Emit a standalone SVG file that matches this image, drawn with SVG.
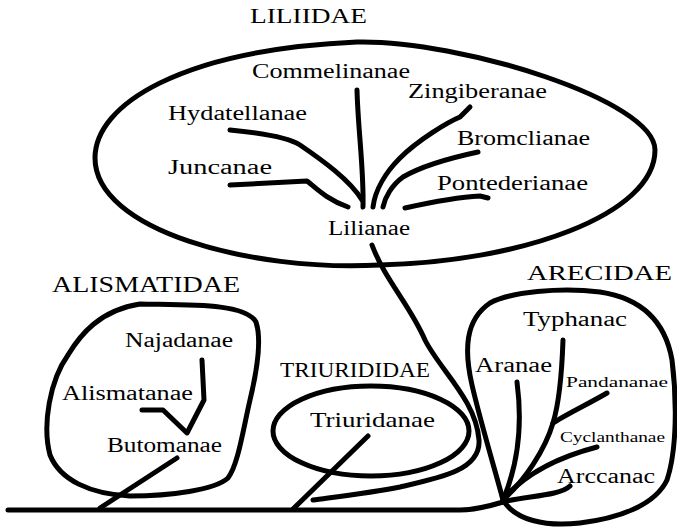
<svg xmlns="http://www.w3.org/2000/svg" width="677" height="529" viewBox="0 0 677 529">
<style>
.ln{fill:none;stroke:#000;stroke-width:5;stroke-linecap:round;stroke-linejoin:round}
.ol{fill:none;stroke:#000;stroke-width:5}
text{font-family:"Liberation Serif","Times New Roman",serif;fill:#000}
.t{font-size:20px}
.h{font-size:22px}
.s{font-size:15px}
</style>
<rect width="677" height="529" fill="#fff"/>
<g id="liliidae">
<path class="ol" d="M95,158 C95,105 180,50 357,42 C460,40 655,100 655,150 C655,215 520,262 380,265 C250,272 95,230 95,158 Z"/>
<text class="h" x="250" y="23" textLength="117" lengthAdjust="spacingAndGlyphs">LILIIDAE</text>
</g>
<g id="commelinanae"><text class="t" x="252" y="78" textLength="158" lengthAdjust="spacingAndGlyphs">Commelinanae</text></g>
<g id="hydatellanae"><text class="t" x="168" y="120" textLength="139" lengthAdjust="spacingAndGlyphs">Hydatellanae</text></g>
<g id="juncanae"><text class="t" x="168" y="174" textLength="104" lengthAdjust="spacingAndGlyphs">Juncanae</text></g>
<g id="lilianae"><text class="t" x="328" y="235" textLength="82" lengthAdjust="spacingAndGlyphs">Lilianae</text></g>
<g id="zingiberanae"><text class="t" x="408" y="98" textLength="139" lengthAdjust="spacingAndGlyphs">Zingiberanae</text></g>
<g id="bromclianae"><text class="t" x="457" y="145" textLength="133" lengthAdjust="spacingAndGlyphs">Bromclianae</text></g>
<g id="pontederianae"><text class="t" x="437" y="190" textLength="151" lengthAdjust="spacingAndGlyphs">Pontederianae</text></g>
<g id="alismatidae">
<path class="ol" d="M140,304 C190,305 245,303 256,322 C262,340 256,375 250,400 C243,430 238,465 228,478 C215,490 170,496 130,496 C90,494 60,480 50,455 C42,425 50,380 68,355 C80,335 100,310 140,304 Z"/>
<text x="52" y="292" textLength="188" lengthAdjust="spacingAndGlyphs" style="font-size:24px">ALISMATIDAE</text>
</g>
<g id="najadanae"><text class="t" x="125" y="347" textLength="108" lengthAdjust="spacingAndGlyphs">Najadanae</text></g>
<g id="alismatanae"><text class="t" x="62" y="400" textLength="131" lengthAdjust="spacingAndGlyphs">Alismatanae</text></g>
<g id="butomanae"><text class="t" x="107" y="452" textLength="115" lengthAdjust="spacingAndGlyphs">Butomanae</text></g>
<g id="triurididae">
<ellipse class="ol" cx="371" cy="431" rx="98" ry="45"/>
<text class="t" x="280" y="377" textLength="150" lengthAdjust="spacingAndGlyphs">TRIURIDIDAE</text>
</g>
<g id="triuridanae"><text class="t" x="310" y="427" textLength="125" lengthAdjust="spacingAndGlyphs" style="font-size:21px">Triuridanae</text></g>
<g id="arecidae">
<path class="ol" d="M503,500 C495,470 480,420 472,385 C464,350 465,320 490,303 C510,292 560,287 600,292 C640,298 665,320 672,360 C677,400 677,450 667,480 C655,505 620,518 580,523 C545,527 515,520 503,500 Z"/>
<text class="h" x="527" y="280" textLength="145" lengthAdjust="spacingAndGlyphs">ARECIDAE</text>
</g>
<g id="typhanac"><text class="t" x="523" y="326" textLength="104" lengthAdjust="spacingAndGlyphs">Typhanac</text></g>
<g id="aranae"><text class="t" x="475" y="372" textLength="77" lengthAdjust="spacingAndGlyphs">Aranae</text></g>
<g id="pandananae"><text class="s" x="566" y="387" textLength="102" lengthAdjust="spacingAndGlyphs">Pandananae</text></g>
<g id="cyclanthanae"><text class="s" x="560" y="442" textLength="105" lengthAdjust="spacingAndGlyphs" style="font-size:14px">Cyclanthanae</text></g>
<g id="arccanac"><text class="t" x="557" y="483" textLength="98" lengthAdjust="spacingAndGlyphs">Arccanac</text></g>
<g id="connectors">
<path class="ln" d="M8,510 L460,510 C475,510 490,506 503,502"/>
<path class="ln" d="M357,90 C358,130 364,170 363,207"/>
<path class="ln" d="M230,130 C262,133 288,137 300,145 C322,160 350,180 362,200"/>
<path class="ln" d="M230,185 L307,181 C316,188 326,199 348,207"/>
<path class="ln" d="M470,107 L460,117 C448,122 418,140 400,158 C386,172 375,190 373,207"/>
<path class="ln" d="M478,152 C450,158 420,167 403,177 C392,185 385,197 383,207"/>
<path class="ln" d="M405,208 C432,202 460,197 480,196 L488,198"/>
<path class="ln" d="M372,245 C385,280 410,305 425,340 C440,370 476,400 479,440 C481,470 440,478 400,487 C370,493 335,497 313,500"/>
<path class="ln" d="M368,436 L293,509"/>
<path class="ln" d="M177,458 L100,508"/>
<path class="ln" d="M202,360 L204,400 L187,433 L163,410 L142,410"/>
<path class="ln" d="M563,340 C562,370 560,400 553,423 C545,450 525,480 503,500"/>
<path class="ln" d="M553,423 C565,415 590,403 607,393"/>
<path class="ln" d="M505,497 C525,475 555,458 597,447"/>
<path class="ln" d="M517,382 C522,420 520,460 503,500"/>
<path class="ln" d="M503,502 C525,496 560,496 570,486"/>
</g>
</svg>
